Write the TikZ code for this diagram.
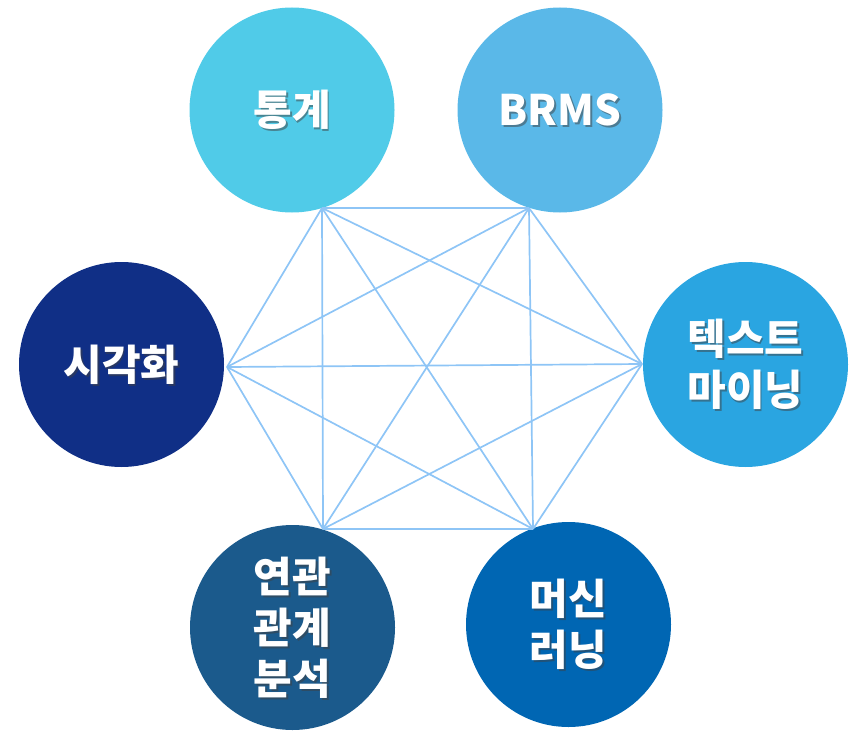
\documentclass[tikz,border=0pt]{standalone}
\usepackage{fontspec}
\newfontfamily\kr{Noto Sans CJK KR}
\usetikzlibrary{calc}
\definecolor{cA}{HTML}{50CBE8}
\definecolor{cB}{HTML}{5AB8E8}
\definecolor{cC}{HTML}{102F86}
\definecolor{cD}{HTML}{2AA5E1}
\definecolor{cE}{HTML}{1B5A8C}
\definecolor{cF}{HTML}{0066B3}
\definecolor{lineC}{HTML}{8EC5F6}
\tikzset{
  circ/.style={circle, minimum size=205pt, inner sep=0pt, draw=none},
  txt/.style={text=white, font=\kr\bfseries\fontsize{42}{51}\selectfont, align=center, inner sep=0pt},
  shd/.style={txt, text=black!75, opacity=0.5},
  link/.style={draw=lineC, line width=1.7pt}
}
\begin{document}
\begin{tikzpicture}[x=1pt,y=-1pt]
\useasboundingbox (0,0) rectangle (850,730);
% circles
\node[circ, fill=cA] (tg) at (292,110) {};
\node[circ, fill=cB] (br) at (560,110) {};
\node[circ, fill=cC] (vi) at (121.5,364.5) {};
\node[circ, fill=cD] (tm) at (745.5,364.5) {};
\node[circ, fill=cE] (as) at (292.5,627.5) {};
\node[circ, fill=cF] (ml) at (568.5,624.5) {};
% hexagon vertices
\coordinate (p1) at (322,208);
\coordinate (p2) at (529,208);
\coordinate (p3) at (227,367);
\coordinate (p4) at (642,364);
\coordinate (p5) at (323,529);
\coordinate (p6) at (533,529);
\foreach \a/\b in {p1/p2,p1/p3,p1/p4,p1/p5,p1/p6,p2/p3,p2/p4,p2/p5,p2/p6,p3/p4,p3/p5,p3/p6,p4/p5,p4/p6,p5/p6}
  \draw[link] (\a) -- (\b);
% labels with shadows
\node[shd] (tgs) at ($(tg)+(1.8,1.8)$) {통계};
\node[txt] (tgt) at (tg) {통계};
\node[shd] (brs) at ($(br)+(1.8,1.8)$) {BRMS};
\node[txt] (brt) at (br) {BRMS};
\node[shd] (vis) at ($(vi)+(1.8,1.8)$) {시각화};
\node[txt] (vit) at (vi) {시각화};
\node[shd] (tms) at ($(tm)+(1.8,1.8)$) {텍스트\\마이닝};
\node[txt] (tmt) at (tm) {텍스트\\마이닝};
\node[shd] (ass) at ($(as)+(1.8,1.8)$) {연관\\관계\\분석};
\node[txt] (ast) at (as) {연관\\관계\\분석};
\node[shd] (mls) at ($(ml)+(1.8,1.8)$) {머신\\러닝};
\node[txt] (mlt) at (ml) {머신\\러닝};
\end{tikzpicture}
\end{document}
